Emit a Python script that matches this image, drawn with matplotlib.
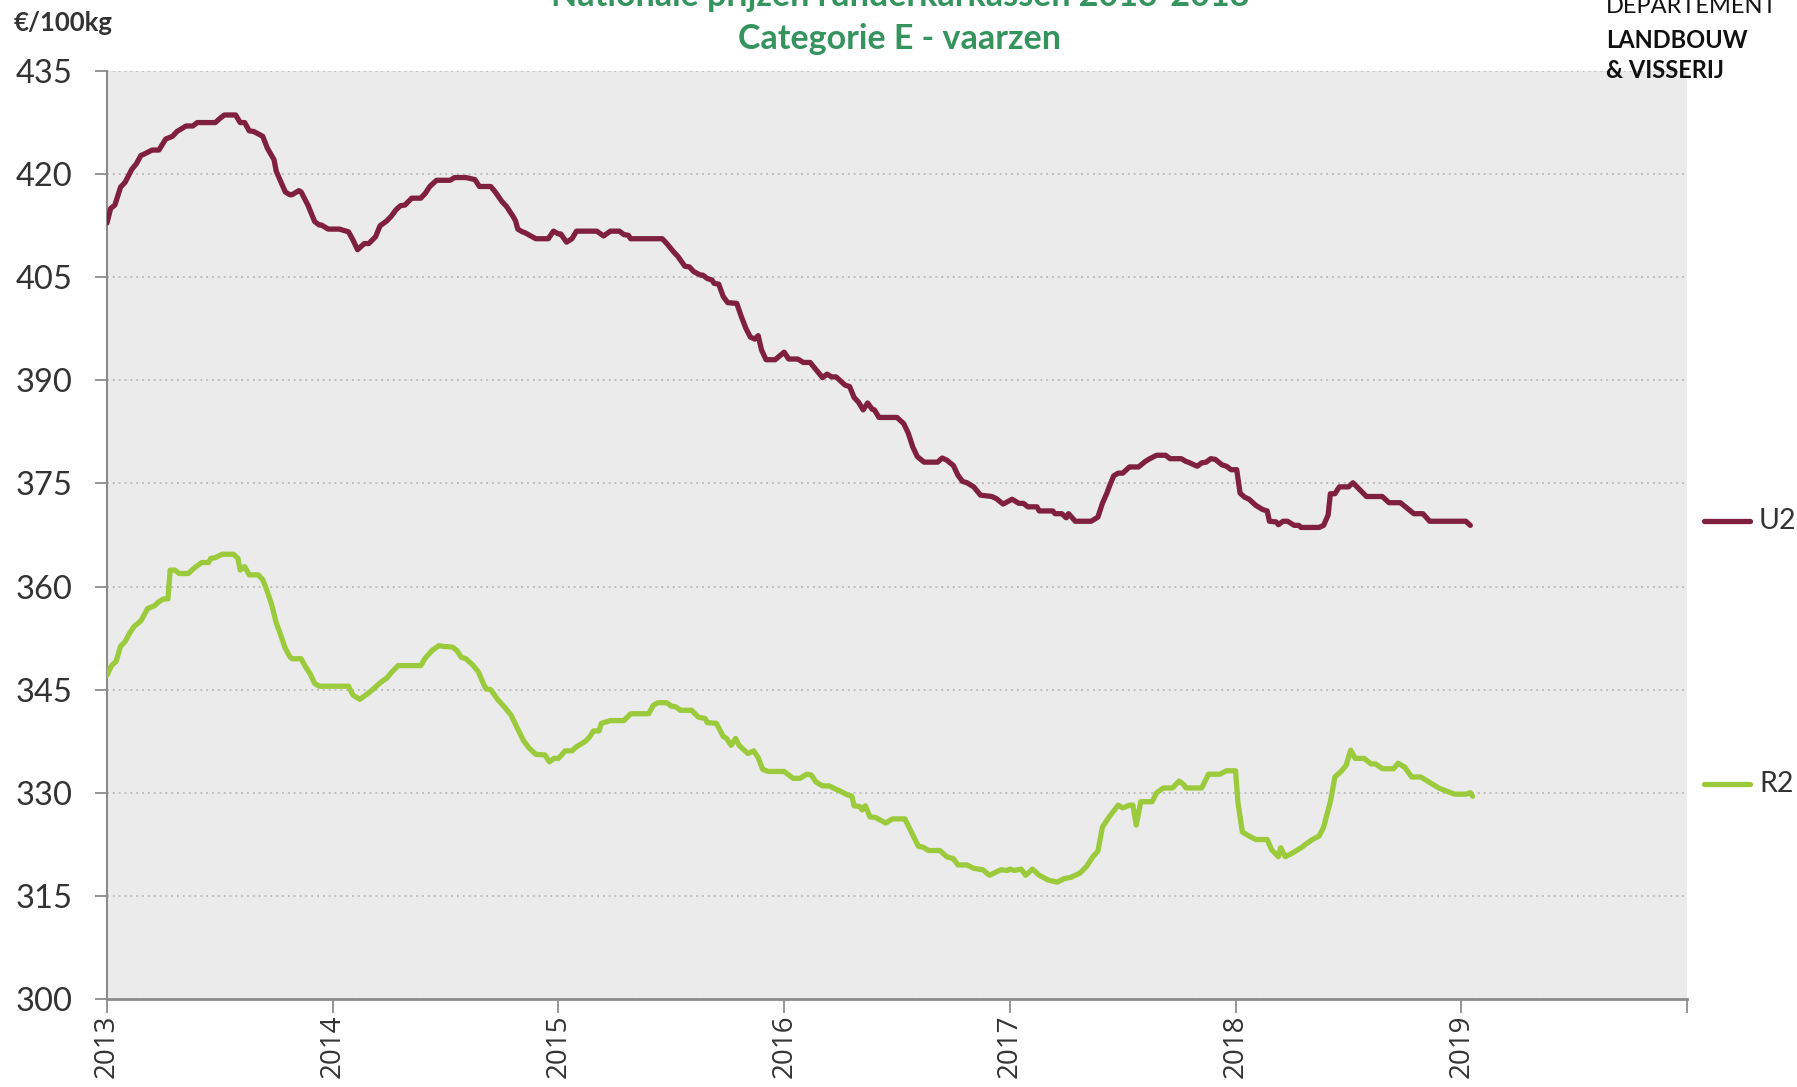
import matplotlib
matplotlib.use("Agg")
import matplotlib.pyplot as plt
from matplotlib.lines import Line2D

# -----------------------------
# DATA
# -----------------------------
u2_t = [
    2013.00, 2013.016, 2013.035, 2013.06, 2013.08, 2013.11, 2013.13, 2013.15, 2013.17, 2013.20,
    2013.23, 2013.26, 2013.29, 2013.31, 2013.35, 2013.38, 2013.40, 2013.48, 2013.50, 2013.52,
    2013.57, 2013.59, 2013.61, 2013.63, 2013.65, 2013.69, 2013.71, 2013.74, 2013.75, 2013.77,
    2013.79, 2013.81, 2013.82, 2013.85, 2013.86, 2013.89, 2013.92, 2013.94, 2013.95, 2013.98,
    2014.03, 2014.07, 2014.09, 2014.11, 2014.14, 2014.16, 2014.19, 2014.21, 2014.24, 2014.26,
    2014.28, 2014.30, 2014.32, 2014.35, 2014.39, 2014.41, 2014.43, 2014.46, 2014.52, 2014.54,
    2014.59, 2014.63, 2014.65, 2014.70, 2014.72, 2014.75, 2014.77, 2014.80, 2014.81, 2014.82,
    2014.84, 2014.85, 2014.90, 2014.955, 2014.978, 2015.00, 2015.01, 2015.036, 2015.06, 2015.08,
    2015.17, 2015.20, 2015.23, 2015.27, 2015.29, 2015.31, 2015.32, 2015.46, 2015.48, 2015.51,
    2015.53, 2015.56, 2015.58, 2015.60, 2015.63, 2015.64, 2015.66, 2015.68, 2015.69, 2015.71,
    2015.73, 2015.75, 2015.79, 2015.81, 2015.83, 2015.85, 2015.87, 2015.885, 2015.90, 2015.92,
    2015.96, 2016.00, 2016.02, 2016.06, 2016.085, 2016.115, 2016.14, 2016.17, 2016.19, 2016.21,
    2016.23, 2016.27, 2016.29, 2016.31, 2016.33, 2016.35, 2016.37, 2016.39, 2016.40, 2016.42,
    2016.50, 2016.53, 2016.55, 2016.57, 2016.59, 2016.62, 2016.68, 2016.70, 2016.72, 2016.75,
    2016.77, 2016.79, 2016.81, 2016.84, 2016.87, 2016.92, 2016.94, 2016.97, 2017.01, 2017.04,
    2017.06, 2017.08, 2017.12, 2017.13, 2017.19, 2017.20, 2017.23, 2017.25, 2017.26, 2017.29,
    2017.36, 2017.39, 2017.41, 2017.43, 2017.44, 2017.46, 2017.48, 2017.50, 2017.53, 2017.57,
    2017.60, 2017.62, 2017.65, 2017.69, 2017.71, 2017.76, 2017.78, 2017.79, 2017.83, 2017.85,
    2017.87, 2017.89, 2017.91, 2017.94, 2017.96, 2017.98, 2018.005, 2018.02, 2018.04, 2018.06,
    2018.09, 2018.12, 2018.14, 2018.15, 2018.18, 2018.19, 2018.21, 2018.23, 2018.26, 2018.28,
    2018.29, 2018.37, 2018.39, 2018.41, 2018.42, 2018.44, 2018.46, 2018.50, 2018.52, 2018.58,
    2018.65, 2018.68, 2018.73, 2018.79, 2018.83, 2018.86, 2019.02, 2019.04,
]
u2_v = [
    412.9, 415.0, 415.5, 418.1, 418.8, 420.7, 421.5, 422.7, 423.0, 423.5,
    423.5, 425.1, 425.5, 426.2, 427.0, 427.0, 427.5, 427.5, 428.1, 428.6,
    428.6, 427.5, 427.5, 426.3, 426.2, 425.5, 423.8, 422.1, 420.4, 418.9,
    417.4, 417.0, 417.0, 417.6, 417.4, 415.5, 413.1, 412.6, 412.6, 412.0,
    412.0, 411.6, 410.4, 409.0, 409.9, 409.9, 410.9, 412.5, 413.2, 413.9,
    414.8, 415.4, 415.5, 416.5, 416.5, 417.2, 418.2, 419.1, 419.1, 419.5,
    419.5, 419.2, 418.2, 418.2, 417.4, 416.0, 415.3, 413.8, 413.2, 412.0,
    411.6, 411.5, 410.6, 410.6, 411.7, 411.3, 411.3, 410.1, 410.6, 411.7,
    411.7, 411.0, 411.7, 411.7, 411.2, 411.1, 410.6, 410.6, 409.9, 408.7,
    408.0, 406.6, 406.5, 405.8, 405.3, 405.3, 404.8, 404.6, 404.1, 404.0,
    402.2, 401.3, 401.2, 399.3, 397.6, 396.3, 396.0, 396.5, 394.4, 393.0,
    393.0, 394.1, 393.1, 393.1, 392.6, 392.6, 391.6, 390.4, 390.9, 390.5,
    390.5, 389.3, 389.1, 387.5, 386.8, 385.7, 386.7, 385.8, 385.7, 384.6,
    384.6, 383.7, 382.3, 380.3, 378.9, 378.1, 378.1, 378.7, 378.4, 377.6,
    376.2, 375.3, 375.1, 374.5, 373.3, 373.1, 372.8, 372.0, 372.7, 372.1,
    372.1, 371.6, 371.6, 371.0, 371.0, 370.6, 370.6, 370.0, 370.6, 369.5,
    369.5, 370.1, 372.1, 373.6, 374.5, 376.1, 376.5, 376.5, 377.4, 377.4,
    378.2, 378.6, 379.1, 379.1, 378.6, 378.6, 378.2, 378.1, 377.5, 378.0,
    378.1, 378.6, 378.5, 377.7, 377.5, 377.0, 377.0, 373.6, 373.0, 372.7,
    371.8, 371.2, 371.0, 369.5, 369.4, 369.0, 369.5, 369.5, 368.9, 368.9,
    368.6, 368.6, 368.9, 370.4, 373.5, 373.5, 374.5, 374.5, 375.1, 373.1,
    373.1, 372.2, 372.2, 370.6, 370.6, 369.5, 369.5, 368.9,
]

r2_t = [
    2013.00, 2013.02, 2013.04, 2013.06, 2013.08, 2013.10, 2013.12, 2013.15, 2013.18, 2013.21,
    2013.23, 2013.25, 2013.27, 2013.28, 2013.30, 2013.32, 2013.36, 2013.39, 2013.42, 2013.45,
    2013.46, 2013.48, 2013.51, 2013.56, 2013.58, 2013.59, 2013.61, 2013.63, 2013.67, 2013.69,
    2013.71, 2013.73, 2013.75, 2013.77, 2013.79, 2013.81, 2013.82, 2013.86, 2013.88, 2013.90,
    2013.92, 2013.94, 2014.07, 2014.09, 2014.12, 2014.15, 2014.18, 2014.21, 2014.24, 2014.26,
    2014.29, 2014.39, 2014.41, 2014.44, 2014.47, 2014.49, 2014.53, 2014.55, 2014.57, 2014.59,
    2014.62, 2014.645, 2014.67, 2014.68, 2014.70, 2014.73, 2014.76, 2014.79, 2014.815, 2014.845,
    2014.87, 2014.90, 2014.94, 2014.96, 2014.98, 2015.00, 2015.03, 2015.06, 2015.08, 2015.12,
    2015.14, 2015.155, 2015.18, 2015.19, 2015.23, 2015.29, 2015.32, 2015.40, 2015.42, 2015.44,
    2015.48, 2015.50, 2015.52, 2015.54, 2015.59, 2015.62, 2015.65, 2015.66, 2015.70, 2015.73,
    2015.745, 2015.765, 2015.785, 2015.80, 2015.84, 2015.865, 2015.885, 2015.905, 2015.93, 2016.00,
    2016.04, 2016.07, 2016.10, 2016.12, 2016.14, 2016.17, 2016.20, 2016.23, 2016.245, 2016.28,
    2016.30, 2016.31, 2016.335, 2016.345, 2016.36, 2016.38, 2016.405, 2016.45, 2016.48, 2016.535,
    2016.565, 2016.595, 2016.615, 2016.64, 2016.69, 2016.72, 2016.75, 2016.77, 2016.81, 2016.84,
    2016.88, 2016.91, 2016.96, 2016.99, 2017.00, 2017.02, 2017.05, 2017.07, 2017.10, 2017.13,
    2017.17, 2017.21, 2017.24, 2017.27, 2017.31, 2017.34, 2017.37, 2017.39, 2017.41, 2017.44,
    2017.48, 2017.50, 2017.53, 2017.545, 2017.56, 2017.58, 2017.63, 2017.65, 2017.68, 2017.72,
    2017.75, 2017.77, 2017.78, 2017.85, 2017.88, 2017.93, 2017.96, 2018.00, 2018.01, 2018.03,
    2018.06, 2018.09, 2018.14, 2018.16, 2018.19, 2018.20, 2018.22, 2018.25, 2018.29, 2018.31,
    2018.34, 2018.37, 2018.39, 2018.42, 2018.44, 2018.47, 2018.49, 2018.51, 2018.53, 2018.57,
    2018.60, 2018.62, 2018.65, 2018.70, 2018.72, 2018.75, 2018.78, 2018.82, 2018.86, 2018.90,
    2018.93, 2018.97, 2019.02, 2019.04, 2019.05,
]
r2_v = [
    347.1, 348.5, 349.1, 351.3, 352.0, 353.2, 354.2, 355.0, 356.8, 357.2,
    357.8, 358.2, 358.2, 362.4, 362.4, 361.9, 361.9, 362.8, 363.5, 363.5,
    364.1, 364.2, 364.7, 364.7, 364.1, 362.4, 362.9, 361.7, 361.7, 361.0,
    359.3, 357.3, 354.7, 352.9, 351.0, 349.8, 349.5, 349.5, 348.3, 347.3,
    345.9, 345.5, 345.5, 344.2, 343.6, 344.3, 345.1, 346.0, 346.7, 347.5,
    348.5, 348.5, 349.6, 350.7, 351.4, 351.3, 351.2, 350.7, 349.7, 349.5,
    348.6, 347.6, 345.7, 345.1, 345.0, 343.6, 342.5, 341.3, 339.6, 337.6,
    336.5, 335.6, 335.5, 334.5, 335.0, 335.0, 336.1, 336.1, 336.7, 337.5,
    338.2, 339.0, 339.0, 340.1, 340.5, 340.5, 341.5, 341.5, 342.7, 343.1,
    343.1, 342.6, 342.5, 342.0, 342.0, 341.0, 340.8, 340.2, 340.1, 338.2,
    337.9, 336.9, 337.9, 336.9, 335.7, 336.1, 335.1, 333.4, 333.1, 333.1,
    332.1, 332.1, 332.7, 332.6, 331.6, 331.0, 331.0, 330.5, 330.3, 329.7,
    329.5, 328.1, 328.0, 327.5, 328.1, 326.5, 326.4, 325.6, 326.2, 326.2,
    324.2, 322.2, 322.1, 321.6, 321.6, 320.7, 320.4, 319.5, 319.5, 319.0,
    318.8, 318.0, 318.8, 318.7, 318.9, 318.7, 318.9, 318.0, 318.9, 318.0,
    317.3, 317.0, 317.5, 317.7, 318.3, 319.3, 320.8, 321.5, 325.0, 326.5,
    328.2, 327.8, 328.2, 328.2, 325.3, 328.7, 328.7, 330.0, 330.7, 330.7,
    331.7, 331.2, 330.7, 330.7, 332.7, 332.7, 333.2, 333.2, 328.7, 324.3,
    323.7, 323.2, 323.2, 321.7, 320.7, 322.0, 320.7, 321.2, 322.0, 322.5,
    323.2, 323.7, 325.0, 328.7, 332.3, 333.2, 334.0, 336.2, 335.0, 335.0,
    334.2, 334.2, 333.5, 333.5, 334.3, 333.7, 332.3, 332.3, 331.5, 330.7,
    330.3, 329.8, 329.8, 330.0, 329.5,
]

series_names = ["U2", "R2"]
series_colors = ["#80203F", "#9BCB3C"]
y_ticks = [300, 315, 330, 345, 360, 375, 390, 405, 420, 435]
x_ticks = [2013, 2014, 2015, 2016, 2017, 2018, 2019, 2020]
x_labels = ["2013", "2014", "2015", "2016", "2017", "2018", "2019", ""]

TITLE_1 = "Nationale prijzen runderkarkassen 2013-2018"
TITLE_2 = "Categorie E - vaarzen"
GREEN = "#35945E"
AXIS_GREY = "#8C8C8C"
TEXT = "#333333"

W, H = 1797, 1087

# -----------------------------
# FIGURE
# -----------------------------
plt.rcParams["font.family"] = ["Lato", "DejaVu Sans"]
fig = plt.figure(figsize=(W / 100, H / 100), dpi=100)
ax = fig.add_axes([107 / W, 1 - 999 / H, (1687 - 107) / W, (999 - 71) / H])
ax.set_facecolor("#EBEBEB")

for t, v, c in zip([u2_t, r2_t], [u2_v, r2_v], series_colors):
    ax.plot(t, v, color=c, lw=3.8, solid_joinstyle="round", solid_capstyle="round", zorder=3)

ax.set_xlim(2013, 2020)
ax.set_ylim(300, 435)
ax.set_yticks(y_ticks)
ax.set_xticks(x_ticks)
ax.set_xticklabels(x_labels, rotation=90, family=["Open Sans", "DejaVu Sans"], fontsize=20, color=TEXT)
for lab in ax.get_yticklabels():
    lab.set_fontsize(23.5)
    lab.set_color(TEXT)

ax.yaxis.grid(True, linestyle=(0, (1, 2)), color="#BDBDBD", lw=1.4)
ax.set_axisbelow(True)
for s in ["top", "right"]:
    ax.spines[s].set_visible(False)
ax.spines["left"].set_color(AXIS_GREY)
ax.spines["left"].set_linewidth(1.5)
ax.spines["bottom"].set_color(AXIS_GREY)
ax.spines["bottom"].set_linewidth(2)
ax.tick_params(axis="y", length=9, width=1.3, color=AXIS_GREY, pad=16)
ax.tick_params(axis="x", length=10, width=1.3, color=AXIS_GREY, pad=1)

# titles
fig.text(900 / W, 1 - 6 / H, TITLE_1, ha="center", va="baseline", color=GREEN,
         fontsize=24.5, fontweight="bold")
fig.text(900 / W, 1 - 49 / H, TITLE_2, ha="center", va="baseline", color=GREEN,
         fontsize=24.5, fontweight="bold")

# unit label
fig.text(14 / W, 1 - 31 / H, "€/100kg", ha="left", va="baseline", color=TEXT,
         fontsize=18.5, fontweight="bold")

# logo text
fig.text(1606 / W, 1 - 13 / H, "DEPARTEMENT", ha="left", va="baseline", color="#111111",
         fontsize=17, fontweight="normal")
fig.text(1606 / W, 1 - 48 / H, "LANDBOUW", ha="left", va="baseline", color="#111111",
         fontsize=17, fontweight="bold")
fig.text(1606 / W, 1 - 78 / H, "& VISSERIJ", ha="left", va="baseline", color="#111111",
         fontsize=17, fontweight="bold")

# legend (drawn by hand, entries far apart like the original)
for name, c, ypix in zip(series_names, series_colors, [521, 784]):
    yf = 1 - ypix / H
    fig.add_artist(Line2D([1704 / W, 1750 / W], [yf, yf], transform=fig.transFigure,
                          color=c, lw=3.8, solid_capstyle="round"))
    fig.text(1759 / W, yf, name, ha="left", va="center", color=TEXT, fontsize=20.5)

fig.savefig("out.png", dpi=100)
